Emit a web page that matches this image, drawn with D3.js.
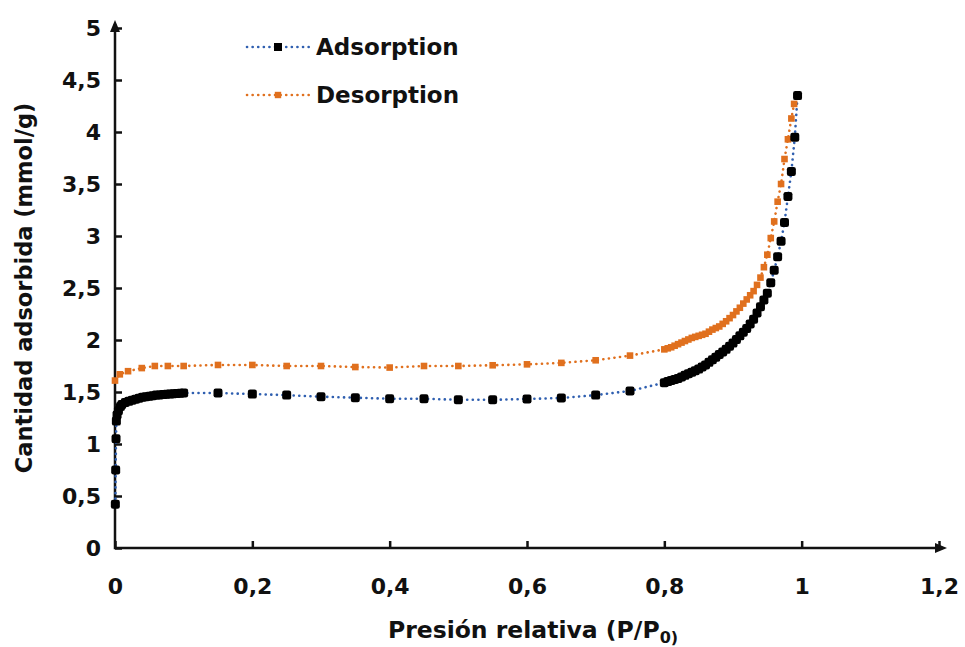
<!DOCTYPE html>
<html>
<head>
<meta charset="utf-8">
<script src="https://d3js.org/d3.v7.min.js"></script>
<style>
  body { margin: 0; background: #fff; }
  svg { font-family: "DejaVu Sans", sans-serif; font-weight: 700; }
  .tick text { font-size: 22px; font-weight: 700; fill: #111; font-family: "DejaVu Sans", sans-serif; }
  .tick line { stroke: #111; stroke-width: 2.5; }
</style>
</head>
<body>
<svg id="chart" width="965" height="647"></svg>
<script>
// Adsorption branch (P/P0, mmol/g)
const adsX = [0.0005, 0.001, 0.0015, 0.002, 0.003, 0.005, 0.008, 0.01, 0.015, 0.02, 0.025, 0.03,
  0.035, 0.04, 0.045, 0.05, 0.055, 0.06, 0.065, 0.07, 0.075, 0.08, 0.085, 0.09, 0.095, 0.1,
  0.15, 0.2, 0.25, 0.3, 0.35, 0.4, 0.45, 0.5, 0.55, 0.6, 0.65, 0.7, 0.75,
  0.8, 0.805, 0.81, 0.815, 0.82, 0.825, 0.83, 0.835, 0.84, 0.845, 0.85, 0.855, 0.86, 0.865,
  0.87, 0.875, 0.88, 0.885, 0.89, 0.895, 0.9, 0.905, 0.91, 0.915, 0.92, 0.925, 0.93, 0.935,
  0.94, 0.945, 0.95, 0.955, 0.96, 0.965, 0.97, 0.975, 0.98, 0.985, 0.99, 0.994];
const adsY = [0.42, 0.75, 1.05, 1.22, 1.28, 1.32, 1.36, 1.38, 1.40, 1.41, 1.42, 1.43,
  1.44, 1.45, 1.455, 1.46, 1.465, 1.47, 1.472, 1.475, 1.478, 1.48, 1.483, 1.486, 1.488, 1.49,
  1.49, 1.48, 1.47, 1.455, 1.445, 1.435, 1.435, 1.425, 1.425, 1.433, 1.442, 1.47, 1.51,
  1.59, 1.60, 1.61, 1.62, 1.63, 1.645, 1.66, 1.675, 1.69, 1.705, 1.72, 1.74, 1.76, 1.785,
  1.81, 1.835, 1.86, 1.885, 1.91, 1.94, 1.97, 2.005, 2.04, 2.075, 2.11, 2.155, 2.20, 2.26,
  2.32, 2.385, 2.45, 2.55, 2.67, 2.80, 2.95, 3.13, 3.38, 3.62, 3.95, 4.35];

// Desorption branch
const desX = [0.0, 0.007, 0.019, 0.039, 0.058, 0.077, 0.1, 0.15, 0.2, 0.25, 0.3, 0.35, 0.4,
  0.45, 0.5, 0.55, 0.6, 0.65, 0.7, 0.75,
  0.8, 0.805, 0.81, 0.815, 0.82, 0.825, 0.83, 0.835, 0.84, 0.845, 0.85, 0.855, 0.86, 0.865,
  0.87, 0.875, 0.88, 0.885, 0.89, 0.895, 0.9, 0.905, 0.91, 0.915, 0.92, 0.925, 0.93, 0.935,
  0.94, 0.945, 0.95, 0.955, 0.96, 0.965, 0.97, 0.975, 0.98, 0.985, 0.989, 0.994];
const desY = [1.61, 1.67, 1.70, 1.73, 1.75, 1.75, 1.75, 1.76, 1.76, 1.75, 1.75, 1.74, 1.735,
  1.75, 1.75, 1.757, 1.766, 1.78, 1.805, 1.85,
  1.91, 1.92, 1.93, 1.945, 1.96, 1.975, 1.99, 2.005, 2.02, 2.03, 2.04, 2.05, 2.06, 2.08,
  2.10, 2.115, 2.13, 2.155, 2.18, 2.21, 2.24, 2.275, 2.31, 2.35, 2.39, 2.43, 2.47, 2.53,
  2.60, 2.70, 2.82, 2.98, 3.14, 3.33, 3.50, 3.74, 3.93, 4.13, 4.27, 4.35];

const xTicks = [0, 0.2, 0.4, 0.6, 0.8, 1, 1.2];
const yTicks = [0, 0.5, 1, 1.5, 2, 2.5, 3, 3.5, 4, 4.5, 5];
const seriesNames = ["Adsorption", "Desorption"];

const svg = d3.select("#chart");
const x = d3.scaleLinear().domain([0, 1.2]).range([115, 939]);
const y = d3.scaleLinear().domain([0, 5]).range([548, 28]);
const fmt = d => String(d).replace(".", ",");

// axes (ticks point inward)
svg.append("g")
  .attr("transform", "translate(0,548)")
  .call(d3.axisBottom(x).tickValues(xTicks).tickFormat(fmt)
    .tickSizeInner(-7).tickSizeOuter(0).tickPadding(30))
  .call(g => g.select(".domain").remove());

svg.append("g")
  .attr("transform", "translate(115,0)")
  .call(d3.axisLeft(y).tickValues(yTicks).tickFormat(fmt)
    .tickSizeInner(-7).tickSizeOuter(0).tickPadding(14))
  .call(g => g.select(".domain").remove());

// axis lines with arrow heads
svg.append("path")
  .attr("d", `M115,${y(5) - 4} V548 H${x(1.2) + 4}`)
  .attr("fill", "none").attr("stroke", "#111").attr("stroke-width", 2.5);
svg.append("path")
  .attr("d", `M115,${y(5) - 8} l-5,12 h10 z`).attr("fill", "#111");
svg.append("path")
  .attr("d", `M${x(1.2) + 8},548 l-12,-5 v10 z`).attr("fill", "#111");

// series
const ads = adsX.map((v, i) => [v, adsY[i]]);
const des = desX.map((v, i) => [v, desY[i]]);
const line = d3.line().x(d => x(d[0])).y(d => y(d[1]));

svg.append("path").datum(ads).attr("d", line)
  .attr("fill", "none").attr("stroke", "#2f5fb0").attr("stroke-width", 2.6)
  .attr("stroke-dasharray", "0.1 5.5").attr("stroke-linecap", "round");
svg.append("path").datum(des).attr("d", line)
  .attr("fill", "none").attr("stroke", "#e0701e").attr("stroke-width", 2.6)
  .attr("stroke-dasharray", "0.1 5.5").attr("stroke-linecap", "round");

svg.append("g").selectAll("rect").data(des).join("rect")
  .attr("x", d => x(d[0]) - 3.3).attr("y", d => y(d[1]) - 3.3)
  .attr("width", 6.6).attr("height", 6.6).attr("fill", "#e0701e");

svg.append("g").selectAll("rect").data(ads).join("rect")
  .attr("x", d => x(d[0]) - 4.5).attr("y", d => y(d[1]) - 4.5)
  .attr("width", 9).attr("height", 9).attr("rx", 2.2)
  .attr("fill", "#000");

// legend
const legend = [
  { name: seriesNames[0], color: "#2f5fb0", mark: "#000", size: 8, y: 47 },
  { name: seriesNames[1], color: "#e0701e", mark: "#e0701e", size: 6.4, y: 95 }
];
legend.forEach(l => {
  svg.append("line").attr("x1", 247).attr("x2", 310).attr("y1", l.y).attr("y2", l.y)
    .attr("stroke", l.color).attr("stroke-width", 2.6)
    .attr("stroke-dasharray", "0.1 5.5").attr("stroke-linecap", "round");
  svg.append("rect").attr("x", 278 - l.size / 2).attr("y", l.y - l.size / 2)
    .attr("width", l.size).attr("height", l.size).attr("fill", l.mark);
  svg.append("text").attr("x", 316).attr("y", l.y).attr("dy", "0.36em")
    .attr("font-size", 23).attr("fill", "#111").text(l.name);
});

// axis titles
svg.append("text")
  .attr("transform", "translate(32,288) rotate(-90)")
  .attr("text-anchor", "middle").attr("font-size", 22.5).attr("fill", "#111")
  .text("Cantidad adsorbida (mmol/g)");

const xt = svg.append("text")
  .attr("x", 533).attr("y", 638).attr("text-anchor", "middle")
  .attr("font-size", 23.5).attr("fill", "#111");
xt.append("tspan").text("Presión relativa (P/P");
xt.append("tspan").attr("font-size", 16).attr("dy", 5).text("0)");
</script>
</body>
</html>
